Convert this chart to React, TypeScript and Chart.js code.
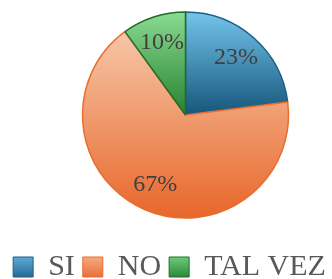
import { useEffect, useRef } from "react";
import { Chart, registerables } from "chart.js";

Chart.register(...registerables);

const categories = ["SI", "NO", "TAL VEZ"];
const values = [23, 67, 10];
const valueLabels = ["23%", "67%", "10%"];

const lightColors = ["#74c4ea", "#f7c6a8", "#8bdb93"];
const darkColors = ["#16567c", "#e8672a", "#27812f"];
const borderColors = ["#1c5f87", "#e86d2e", "#1f6e27"];
const legendLight = ["#5eabd7", "#f6aa7c", "#6ccb79"];
const legendDark = ["#266a95", "#e8703a", "#2c8839"];

const FONT = "'Liberation Serif', 'Times New Roman', serif";

// layout offsets (pie area shift, legend shift)
const PIE_DX = 19.5;
const PIE_DY = -0.5;
const LEGEND_DX = 3.5;
const LEGEND_DY = 13;
const LEGEND_PAD = 8;

const gradientPlugin = {
  id: "sliceGradients",
  beforeDatasetsDraw(chart: any) {
    const ctx = chart.ctx;
    const meta = chart.getDatasetMeta(0);
    meta.data.forEach((arc: any, i: number) => {
      const { y, outerRadius, startAngle, endAngle } = arc.getProps(
        ["x", "y", "outerRadius", "startAngle", "endAngle"],
        true
      );
      let ymin = y;
      let ymax = y;
      const steps = 60;
      for (let s = 0; s <= steps; s++) {
        const a = startAngle + ((endAngle - startAngle) * s) / steps;
        const py = y + Math.sin(a) * outerRadius;
        ymin = Math.min(ymin, py);
        ymax = Math.max(ymax, py);
      }
      const g = ctx.createLinearGradient(0, ymin, 0, ymax);
      g.addColorStop(0, lightColors[i]);
      g.addColorStop(1, darkColors[i]);
      arc.options.backgroundColor = g;
    });
  },
  afterDatasetsDraw(chart: any) {
    const ctx = chart.ctx;
    const meta = chart.getDatasetMeta(0);
    ctx.save();
    ctx.font = `24px ${FONT}`;
    ctx.fillStyle = "#404040";
    ctx.textAlign = "center";
    ctx.textBaseline = "middle";
    meta.data.forEach((arc: any, i: number) => {
      const { x, y, outerRadius, startAngle, endAngle } = arc.getProps(
        ["x", "y", "outerRadius", "startAngle", "endAngle"],
        true
      );
      const mid = (startAngle + endAngle) / 2;
      const r = outerRadius * 0.74;
      ctx.fillText(valueLabels[i], x + Math.cos(mid) * r, y + Math.sin(mid) * r);
    });
    ctx.restore();
  },
};

const layoutShiftPlugin = {
  id: "layoutShift",
  afterLayout(chart: any) {
    const lg = chart.legend;
    if (lg) {
      lg.left += LEGEND_DX;
      lg.right += LEGEND_DX;
      lg.top += LEGEND_DY;
      lg.bottom += LEGEND_DY;
    }
    const ca = chart.chartArea;
    ca.left += PIE_DX;
    ca.right += PIE_DX;
    ca.top += PIE_DY;
    ca.bottom += PIE_DY;
  },
};

export default function App() {
  const canvasRef = useRef<HTMLCanvasElement | null>(null);

  useEffect(() => {
    const canvas = canvasRef.current;
    if (!canvas) return;
    const chart = new Chart(canvas, {
      type: "pie",
      data: {
        labels: categories,
        datasets: [
          {
            data: values,
            backgroundColor: darkColors,
            borderColor: borderColors,
            borderWidth: 1.5,
            radius: 103,
          },
        ],
      },
      options: {
        responsive: false,
        animation: false,
        layout: { padding: 0 },
        plugins: {
          tooltip: { enabled: false },
          legend: {
            position: "bottom",
            labels: {
              color: "#595959",
              font: { family: FONT, size: 30 },
              boxWidth: 20,
              boxHeight: 20,
              padding: LEGEND_PAD,
              generateLabels(ch: any) {
                const lg = ch.legend;
                const fontSize = 30;
                const boxH = 20;
                let top = 257;
                if (lg && typeof lg.top === "number" && !isNaN(lg.top)) {
                  top = lg.top + LEGEND_PAD + (fontSize - boxH) / 2;
                }
                return categories.map((c, i) => {
                  const g = ch.ctx.createLinearGradient(0, top, 0, top + boxH);
                  g.addColorStop(0, legendLight[i]);
                  g.addColorStop(1, legendDark[i]);
                  return {
                    text: c,
                    fillStyle: g,
                    strokeStyle: borderColors[i],
                    lineWidth: 1,
                    fontColor: "#595959",
                    hidden: false,
                    index: i,
                  };
                });
              },
            },
          },
        },
      },
      plugins: [gradientPlugin, layoutShiftPlugin],
    });
    return () => chart.destroy();
  }, []);

  return (
    <div style={{ position: "absolute", left: 0, top: 0, width: 332, height: 279, background: "#fff" }}>
      <canvas ref={canvasRef} width={332} height={279} />
    </div>
  );
}
